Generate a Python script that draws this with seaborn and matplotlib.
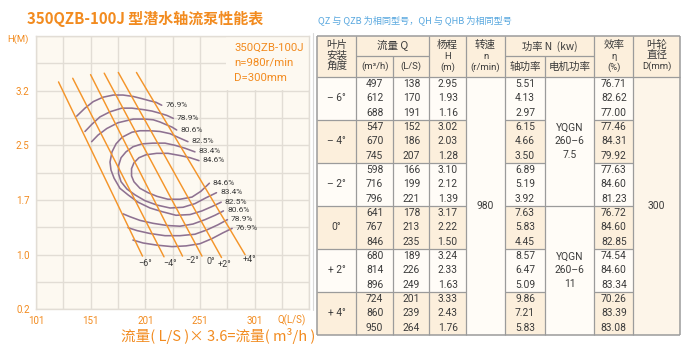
import numpy as np
import pandas as pd
import matplotlib
matplotlib.use("Agg")
import matplotlib.pyplot as plt
from matplotlib.patches import Rectangle
from matplotlib.lines import Line2D
import seaborn as sns

# ---------------- chart data: flow Q (L/S) against head H (m) ----------------
blade_angles = ["−6°", "−4°", "−2°", "0°", "+2°", "+4°"]
angle_q_start = [121.6, 134.6, 150.9, 163.4, 176.3, 192.9]
angle_h_start = [3.32, 3.37, 3.42, 3.44, 3.45, 3.45]
angle_q_end = [198.4, 218.1, 235.0, 252.8, 270.7, 292.2]
angle_h_end = [0.93, 0.92, 0.93, 0.93, 0.91, 0.95]

# iso-efficiency curves: upper arcs
eta_top_769_q = [138.2, 145.8, 153.4, 162.3, 171.7, 180.6, 190.0, 198.0, 205.3, 210.8, 216.0]
eta_top_769_h = [2.85, 2.96, 3.05, 3.11, 3.14, 3.14, 3.12, 3.09, 3.06, 3.04, 3.00]
eta_top_789_q = [145.8, 152.2, 159.5, 168.7, 179.4, 188.8, 199.2, 207.1, 214.4, 220.8, 226.6]
eta_top_789_h = [2.64, 2.74, 2.84, 2.91, 2.96, 2.96, 2.94, 2.92, 2.89, 2.86, 2.82]
eta_top_806_q = [151.9, 157.7, 165.7, 176.0, 190.0, 200.7, 208.3, 214.4, 220.6, 225.4, 229.7]
eta_top_806_h = [2.50, 2.59, 2.68, 2.76, 2.81, 2.81, 2.80, 2.77, 2.73, 2.70, 2.66]
# loops around the best-efficiency zone
eta_loop_825_q = [240.0, 230.9, 223.6, 214.4, 205.3, 196.1, 188.8, 179.7, 174.2, 170.5, 168.7, 169.6,
                  172.4, 177.8, 185.2, 194.3, 205.3, 216.3, 229.1, 241.9, 252.8, 262.0, 270.4]
eta_loop_825_h = [2.50, 2.56, 2.61, 2.64, 2.65, 2.65, 2.63, 2.56, 2.47, 2.36, 2.22, 2.11,
                  2.00, 1.86, 1.77, 1.67, 1.59, 1.54, 1.49, 1.50, 1.55, 1.61, 1.67]
eta_loop_834_q = [246.4, 237.3, 228.2, 219.0, 208.0, 198.0, 189.7, 183.3, 178.8, 176.5, 176.5,
                  178.8, 184.2, 191.6, 200.7, 211.7, 223.6, 235.5, 246.4, 256.5, 266.1]
eta_loop_834_h = [2.36, 2.41, 2.45, 2.48, 2.48, 2.47, 2.43, 2.36, 2.28, 2.17, 2.06,
                  1.95, 1.85, 1.77, 1.69, 1.63, 1.59, 1.60, 1.65, 1.73, 1.80]
eta_loop_846_q = [250.1, 241.9, 232.7, 221.7, 211.4, 201.6, 195.2, 190.6, 188.4, 188.4,
                  190.6, 196.1, 203.5, 211.7, 221.7, 232.7, 243.7, 251.9, 259.6]
eta_loop_846_h = [2.24, 2.28, 2.31, 2.34, 2.34, 2.32, 2.28, 2.21, 2.13, 2.03,
                  1.95, 1.86, 1.80, 1.75, 1.71, 1.71, 1.74, 1.82, 1.93]
# lower arcs
eta_low_806_q = [180.6, 187.0, 196.1, 208.0, 220.8, 232.7, 244.6, 255.6, 264.7, 272.5]
eta_low_806_h = [1.51, 1.47, 1.42, 1.38, 1.35, 1.34, 1.37, 1.43, 1.49, 1.55]
eta_low_789_q = [185.2, 193.4, 205.3, 219.0, 232.7, 246.4, 257.4, 267.5, 276.1]
eta_low_789_h = [1.32, 1.28, 1.24, 1.21, 1.21, 1.23, 1.29, 1.36, 1.43]
eta_low_769_q = [189.7, 198.9, 211.7, 225.4, 238.2, 251.0, 262.0, 272.1, 280.4]
eta_low_769_h = [1.15, 1.11, 1.08, 1.06, 1.07, 1.10, 1.17, 1.25, 1.31]

x_tick_labels = ["101", "151", "201", "251", "301"]
y_tick_labels = ["0.2", "1.0", "1.7", "2.5", "3.2"]

# ---------------- table data ----------------
angle_rows = ["– 6°", "– 4°", "– 2°", "0°", "+ 2°", "+ 4°"]
flow_m3h = [[497, 612, 688], [547, 670, 745], [598, 716, 796],
            [641, 767, 846], [680, 814, 896], [724, 860, 950]]
flow_ls = [[138, 170, 191], [152, 186, 207], [166, 199, 221],
           [178, 213, 235], [189, 226, 249], [201, 239, 264]]
head_m = [["2.95", "1.93", "1.16"], ["3.02", "2.03", "1.28"], ["3.10", "2.12", "1.39"],
          ["3.17", "2.22", "1.50"], ["3.24", "2.33", "1.63"], ["3.33", "2.43", "1.76"]]
shaft_kw = [["5.51", "4.13", "2.97"], ["6.15", "4.66", "3.50"], ["6.89", "5.19", "3.92"],
            ["7.63", "5.83", "4.45"], ["8.57", "6.47", "5.09"], ["9.86", "7.21", "5.83"]]
eff_pct = [["76.71", "82.62", "77.00"], ["77.46", "84.31", "79.92"], ["77.63", "84.60", "81.23"],
           ["76.72", "84.60", "82.85"], ["74.54", "84.60", "83.34"], ["70.26", "83.39", "83.08"]]
speed_rpm = "980"
impeller_mm = "300"
motor_models = [["YQGN", "260–6", "7.5"], ["YQGN", "260–6", "11"]]

# ---------------- styling ----------------
ORANGE = "#f4952a"
ORANGE_TXT = "#f28b1f"
PURPLE = "#8e7191"
GRID = "#e2ddd5"
PLOT_BG = "#fdf9f1"
BEIGE = "#fcefdc"
WHITE = "#fffcf7"
RULE = "#9b9b9b"
DARK = "#3b3b3b"
BLUE = "#57a7df"

sns.set_theme(style="white")
NARROW = ["Liberation Sans Narrow", "Roboto", "Noto Sans CJK SC", "DejaVu Sans"]
CJK = ["Noto Sans CJK SC", "DejaVu Sans"]
plt.rcParams["font.family"] = NARROW

W, H = 690, 350
fig = plt.figure(figsize=(W / 100, H / 100), dpi=100)
fig.patch.set_facecolor("white")


def box(x0, y0, x1, y1):
    return [x0 / W, 1 - y1 / H, (x1 - x0) / W, (y1 - y0) / H]


# ================= performance chart =================
ax = fig.add_axes(box(36, 36, 309.3, 309.3))
ax.set_facecolor(PLOT_BG)
ax.set_axisbelow(True)

# blade-angle operating lines
angle_df = pd.DataFrame({
    "Q": angle_q_start + angle_q_end,
    "H": angle_h_start + angle_h_end,
    "angle": blade_angles + blade_angles,
})
sns.lineplot(data=angle_df, x="Q", y="H", units="angle", estimator=None, sort=False,
             color=ORANGE, lw=1.05, ax=ax, legend=False, zorder=3)

# efficiency curves
eff_curves = [
    ("76.9%", eta_top_769_q, eta_top_769_h, "end"),
    ("78.9%", eta_top_789_q, eta_top_789_h, "end"),
    ("80.6%", eta_top_806_q, eta_top_806_h, "end"),
    ("82.5%", eta_loop_825_q, eta_loop_825_h, "both"),
    ("83.4%", eta_loop_834_q, eta_loop_834_h, "both"),
    ("84.6%", eta_loop_846_q, eta_loop_846_h, "both"),
    ("80.6%", eta_low_806_q, eta_low_806_h, "end"),
    ("78.9%", eta_low_789_q, eta_low_789_h, "end"),
    ("76.9%", eta_low_769_q, eta_low_769_h, "end"),
]
rows = []
for k, (lab, qs, hs, _) in enumerate(eff_curves):
    for q, h in zip(qs, hs):
        rows.append({"Q": q, "H": h, "curve": k})
eff_df = pd.DataFrame(rows)
sns.lineplot(data=eff_df, x="Q", y="H", units="curve", estimator=None, sort=False,
             color=PURPLE, lw=1.15, ax=ax, legend=False, zorder=2)

q_min, q_step = 101, 25
h_min, h_step = 0.2, 0.375
ax.set_xlim(q_min, q_min + 10 * q_step)
ax.set_ylim(h_min, h_min + 10 * h_step)
ax.set_xticks([q_min + i * q_step for i in range(11)])
ax.set_yticks([h_min + i * h_step for i in range(11)])
xl = [""] * 11
yl = [""] * 11
for i, s in enumerate(x_tick_labels):
    xl[2 * i] = s
for i, s in enumerate(y_tick_labels):
    yl[2 * i] = s
ax.set_xticklabels(xl)
ax.set_yticklabels(yl)
ax.tick_params(length=0, pad=4.5, labelsize=7, labelcolor=ORANGE_TXT)
ax.grid(True, color=GRID, lw=1.0)
for sp in ax.spines.values():
    sp.set_color(GRID)
    sp.set_linewidth(1.0)
ax.set_xlabel("")
ax.set_ylabel("")

for lab, qs, hs, where in eff_curves:
    ends = [(qs[-1], hs[-1])]
    if where == "both":
        ends.append((qs[0], hs[0]))
    for q, h in ends:
        ax.annotate(lab, xy=(q, h), xytext=(2.6, 0.3), textcoords="offset points",
                    ha="left", va="center", fontsize=6.0, color=DARK, zorder=4)

# angle labels under the line ends
angle_label_offsets = [(1.8, -5.4), (4.3, -4.7), (7.2, -3.2), (6.1, -3.7), (2.5, -4.7), (3.1, -3.5)]
for name, q, h, off in zip(blade_angles, angle_q_end, angle_h_end, angle_label_offsets):
    ax.annotate(name, xy=(q, h), xytext=off, textcoords="offset points",
                ha="center", va="center", fontsize=6.5, color=DARK, zorder=4)

# model block in the upper right corner, over the grid
ax.add_patch(Rectangle((274.6, 3.21), 351 - 274.6, 3.95 - 3.21, facecolor=PLOT_BG,
                       edgecolor="none", zorder=1))
for i, line in enumerate(["350QZB-100J", "n=980r/min", "D=300mm"]):
    fig.text(234 / W, 1 - (48 + 14.8 * i) / H, line, ha="left", va="center",
             fontsize=8.2, color=ORANGE_TXT, family=["Roboto", "DejaVu Sans"])

fig.text(28.5 / W, 1 - 39.5 / H, "H(M)", ha="right", va="center", fontsize=6.8,
         color=ORANGE_TXT)
fig.text(306 / W, 1 - 320 / H, "Q(L/S)", ha="right", va="center", fontsize=7,
         color=ORANGE_TXT)
fig.text(315 / W, 1 - 336 / H, "流量( L/S )× 3.6=流量( m³/h )", ha="right", va="center",
         fontsize=10.5, color=ORANGE_TXT, family=CJK)

# titles
fig.text(27 / W, 1 - 19 / H, "350QZB-100J 型潜水轴流泵性能表", ha="left", va="center",
         fontsize=10.8, fontweight="bold", color=ORANGE_TXT, family=CJK)
fig.text(318.5 / W, 1 - 20 / H, "QZ 与 QZB 为相同型号，QH 与 QHB 为相同型号", ha="left",
         va="center", fontsize=6.6, color=BLUE, family=CJK)

fig.add_artist(Line2D([313 / W, 313 / W], [1 - 33 / H, 1 - 310 / H], color="#d9d9d9",
                      lw=0.8, transform=fig.transFigure))

# ================= performance table =================
tax = fig.add_axes(box(312, 30, 690, 345))
tax.set_xlim(312, 690)
tax.set_ylim(345, 30)
tax.axis("off")

xe = [317.3, 356, 393.3, 429.3, 466, 505, 545, 594.3, 633.3, 680]
t_top, t_mid, t_hdr, t_bot = 36, 56, 76.7, 335
n_rows = 18
rh = (t_bot - t_hdr) / n_rows
xc = [(a + b) / 2 for a, b in zip(xe[:-1], xe[1:])]


def fill(x0, x1, y0, y1, c):
    tax.add_patch(Rectangle((x0, y0), x1 - x0, y1 - y0, facecolor=c, edgecolor="none", zorder=1))


def hline(y, x0, x1, lw=0.9):
    tax.plot([x0, x1], [y, y], color=RULE, lw=lw, zorder=3, solid_capstyle="butt")


def vline(x, y0, y1, lw=0.9):
    tax.plot([x, x], [y0, y1], color=RULE, lw=lw, zorder=3, solid_capstyle="butt")


def txt(x, y, s, size=7.4, fam=None):
    tax.text(x, y, s, ha="center", va="center", fontsize=size, color=DARK,
             family=fam if fam else NARROW, zorder=4)


# backgrounds
fill(xe[0], xe[-1], t_top, t_hdr, BEIGE)
for g in range(6):
    y0 = t_hdr + 3 * g * rh
    c = BEIGE if g % 2 == 1 else WHITE
    for ci in (0, 1, 2, 3, 5, 7):
        fill(xe[ci], xe[ci + 1], y0, y0 + 3 * rh, c)
fill(xe[4], xe[5], t_hdr, t_bot, WHITE)
fill(xe[6], xe[7], t_hdr, t_bot, WHITE)
fill(xe[8], xe[9], t_hdr, t_bot, "#fdf5e9")

# rules
for i, x in enumerate(xe):
    if i in (2, 6):
        vline(x, t_mid, t_bot)
    else:
        vline(x, t_top, t_bot, lw=1.1 if i in (0, 9) else 0.9)
hline(t_top, xe[0], xe[-1], lw=1.1)
hline(t_bot, xe[0], xe[-1], lw=1.1)
hline(t_hdr, xe[0], xe[-1])
hline(t_mid, xe[1], xe[3])
hline(t_mid, xe[5], xe[7])
for g in range(1, 6):
    y = t_hdr + 3 * g * rh
    hline(y, xe[0], xe[4])
    hline(y, xe[5], xe[6])
    hline(y, xe[7], xe[8])
    if g == 3:
        hline(y, xe[6], xe[7])

# header
txt(xc[0], 45, "叶片", 7.6, CJK)
txt(xc[0], 55.5, "安装", 7.6, CJK)
txt(xc[0], 66.5, "角度", 7.6, CJK)
txt((xe[1] + xe[3]) / 2, 46, "流量 Q", 7.6, CJK)
txt(xc[1], 66.5, "(m³/h)", 6.8)
txt(xc[2], 66.5, "(L/S)", 6.8)
txt(xc[3], 45, "杨程", 7.6, CJK)
txt(xc[3], 56.5, "H", 6.8)
txt(xc[3], 67, "(m)", 6.8)
txt(xc[4], 45, "转速", 7.6, CJK)
txt(xc[4], 56.5, "n", 6.8)
txt(xc[4], 67, "(r/min)", 6.8)
txt((xe[5] + xe[7]) / 2, 46, "功率 N  (kw)", 7.4, CJK)
txt(xc[5], 66.5, "轴功率", 7.6, CJK)
txt(xc[6], 66.5, "电机功率", 7.6, CJK)
txt(xc[7], 45, "效率", 7.6, CJK)
txt(xc[7], 56.5, "η", 6.8)
txt(xc[7], 67, "(%)", 6.8)
txt(xc[8], 45, "叶轮", 7.6, CJK)
txt(xc[8], 55.5, "直径", 7.6, CJK)
txt(xc[8], 66.5, "D(mm)", 6.8)

# body
for g in range(6):
    gy = t_hdr + 3 * g * rh
    txt(xc[0], gy + 1.5 * rh, angle_rows[g], 7.4)
    for r in range(3):
        y = gy + (r + 0.5) * rh
        txt(xc[1], y, str(flow_m3h[g][r]))
        txt(xc[2], y, str(flow_ls[g][r]))
        txt(xc[3], y, head_m[g][r])
        txt(xc[5], y, shaft_kw[g][r])
        txt(xc[7], y, eff_pct[g][r])
txt(xc[4], (t_hdr + t_bot) / 2, speed_rpm)
txt(xc[8], (t_hdr + t_bot) / 2, impeller_mm)
for k, lines in enumerate(motor_models):
    y0 = t_hdr + 9 * k * rh
    yc = y0 + 4.5 * rh
    for j, s in enumerate(lines):
        txt(xc[6], yc + (j - 1) * 13.5, s)

fig.savefig("out.png", dpi=100, facecolor="white")
